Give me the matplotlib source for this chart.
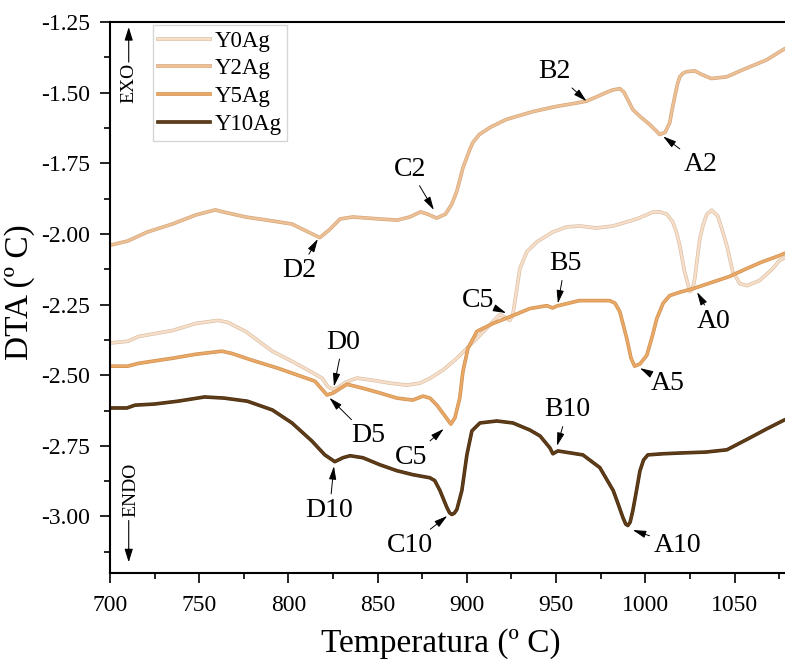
import matplotlib
matplotlib.use("Agg")
import matplotlib.pyplot as plt
import matplotlib.patheffects as pe
from matplotlib.ticker import MultipleLocator, FormatStrFormatter

plt.rcParams['font.family'] = ['Liberation Serif', 'DejaVu Serif']
plt.rcParams['axes.unicode_minus'] = False

# ---- data ----
temp_y0 = [700, 710, 716, 735, 748, 760.5, 766, 776, 791, 802,
           811, 819, 822, 825, 828, 832, 838.4, 847.3, 856.9, 866.4,
           873.7, 879.3, 886.6, 894.4, 900, 907.3, 914.6, 918.5, 922.4, 924,
           925.8, 928, 929.7, 933.6, 939.2, 948.2, 956, 963.3, 972.8, 981.8,
           995.2, 1004.2, 1008, 1012, 1015.4, 1017.5, 1019.3, 1022, 1025, 1026.5,
           1027.7, 1030.5, 1032.5, 1034.5, 1037.2, 1040.6, 1043, 1045.7, 1049, 1053,
           1057, 1064, 1071.4, 1075, 1085]
dta_y0 = [-2.386, -2.380, -2.363, -2.342, -2.317, -2.306, -2.313, -2.345, -2.415, -2.451,
          -2.482, -2.511, -2.540, -2.550, -2.543, -2.525, -2.510, -2.518, -2.528, -2.535,
          -2.528, -2.511, -2.482, -2.440, -2.405, -2.359, -2.310, -2.285, -2.299, -2.306,
          -2.285, -2.194, -2.123, -2.063, -2.028, -1.993, -1.975, -1.972, -1.979, -1.972,
          -1.947, -1.923, -1.922, -1.930, -1.958, -1.995, -2.042, -2.134, -2.204, -2.195,
          -2.158, -2.018, -1.965, -1.930, -1.916, -1.937, -1.985, -2.042, -2.134, -2.176,
          -2.183, -2.165, -2.123, -2.095, -2.060]

temp_y2 = [700, 710, 721, 735, 748, 759, 764, 776, 791, 802,
           811, 817.6, 823, 829, 836, 851, 861, 868, 874, 878,
           883, 888, 891.6, 894.4, 897.8, 901.7, 903.4, 907, 913, 922,
           937, 950, 963, 967, 973, 979, 982, 985.7, 988, 991,
           993, 997, 1002.5, 1006.4, 1008, 1011, 1013.7, 1015, 1016.5, 1018,
           1019.3, 1021, 1023, 1027.7, 1032, 1037, 1045.7, 1054.6, 1068, 1078,
           1085]
dta_y2 = [-2.040, -2.025, -1.993, -1.965, -1.933, -1.915, -1.923, -1.940, -1.954, -1.965,
          -1.993, -2.013, -1.985, -1.947, -1.940, -1.947, -1.951, -1.940, -1.922, -1.930,
          -1.944, -1.930, -1.894, -1.848, -1.766, -1.700, -1.676, -1.648, -1.623, -1.595,
          -1.567, -1.549, -1.535, -1.530, -1.514, -1.497, -1.490, -1.486, -1.498, -1.535,
          -1.560, -1.584, -1.613, -1.637, -1.648, -1.641, -1.606, -1.560, -1.514, -1.470,
          -1.444, -1.432, -1.426, -1.423, -1.437, -1.450, -1.444, -1.419, -1.384, -1.345,
          -1.325]

temp_y5 = [700, 710, 716, 735, 748, 762.7, 768.3, 779.6, 794, 805.3,
           814.8, 821.6, 825, 832.8, 841.7, 851.3, 860.8, 869.7, 875.4, 879.3,
           883.2, 887.7, 891, 893.3, 896, 897.8, 900.6, 905.6, 914.6, 925.8,
           935.3, 944.8, 948, 950.5, 963, 980, 983, 985.7, 989.6, 992,
           994, 997, 1000.8, 1004, 1006.4, 1010, 1013.7, 1020, 1026.6, 1037,
           1047, 1056, 1065, 1075, 1085]
dta_y5 = [-2.468, -2.468, -2.458, -2.440, -2.426, -2.415, -2.423, -2.447, -2.475, -2.500,
          -2.521, -2.570, -2.563, -2.532, -2.546, -2.563, -2.581, -2.588, -2.574, -2.581,
          -2.606, -2.644, -2.673, -2.651, -2.581, -2.486, -2.405, -2.345, -2.317, -2.289,
          -2.264, -2.254, -2.262, -2.255, -2.236, -2.236, -2.245, -2.275, -2.370, -2.440,
          -2.468, -2.460, -2.430, -2.360, -2.300, -2.245, -2.218, -2.205, -2.194, -2.172,
          -2.151, -2.125, -2.100, -2.077, -2.050]

temp_y10 = [700, 709.5, 714, 725, 738, 753, 764, 777, 791, 802,
            813, 820.4, 826, 830.5, 834.5, 841.7, 851.3, 860.8, 869.7, 879.3,
            882, 884.9, 888.8, 890.3, 891.6, 893, 894.4, 897.2, 900, 902.8,
            907.3, 916.8, 925.8, 935.3, 941, 946.5, 948.2, 951, 958, 965,
            974.5, 982, 985, 987.4, 989, 990.2, 991.5, 993, 995, 997,
            999, 1001.4, 1010, 1021, 1034, 1045.7, 1058.5, 1068, 1078, 1085]
dta_y10 = [-2.616, -2.616, -2.606, -2.602, -2.592, -2.577, -2.581, -2.592, -2.623, -2.669,
           -2.732, -2.782, -2.806, -2.792, -2.785, -2.792, -2.817, -2.838, -2.852, -2.863,
           -2.873, -2.908, -2.968, -2.987, -2.993, -2.988, -2.975, -2.908, -2.782, -2.697,
           -2.669, -2.662, -2.669, -2.694, -2.715, -2.757, -2.778, -2.768, -2.775, -2.782,
           -2.827, -2.908, -2.960, -3.003, -3.027, -3.032, -3.020, -2.979, -2.910, -2.838,
           -2.800, -2.782, -2.778, -2.775, -2.772, -2.764, -2.722, -2.690, -2.658, -2.640]

series_names = ["Y0Ag", "Y2Ag", "Y5Ag", "Y10Ag"]

# peak labels: (text, label position, arrow tip)
peak_labels = [
    ("B2", (949, -1.426), (967, -1.530)),
    ("A2", (1031, -1.754), (1010, -1.655)),
    ("C2", (868, -1.771), (881.5, -1.915)),
    ("D2", (806, -2.130), (816.5, -2.018)),
    ("C5", (906, -2.236), (922, -2.280)),
    ("B5", (955, -2.106), (951, -2.246)),
    ("A0", (1038.5, -2.310), (1029, -2.206)),
    ("A5", (1012.5, -2.528), (997, -2.475)),
    ("D0", (830.5, -2.384), (825.5, -2.540)),
    ("D5", (844.5, -2.715), (823, -2.580)),
    ("C5", (869, -2.790), (887, -2.690)),
    ("D10", (823, -2.979), (825.5, -2.822)),
    ("C10", (868, -3.102), (889, -2.998)),
    ("B10", (956.5, -2.623), (950.5, -2.750)),
    ("A10", (1018, -3.102), (993, -3.048)),
]

# ---- figure ----
fig = plt.figure(figsize=(7.85, 6.59), dpi=100)
ax = fig.add_axes([0.1401, 0.1305, 0.8752, 0.8361])

styles = [("#F6DEC8", "#D9BFA6"), ("#EDC195", "#D3A57A"),
          ("#E9A865", "#CF8F4E"), ("#5E3C18", "#4A2E10")]
all_x = [temp_y0, temp_y2, temp_y5, temp_y10]
all_y = [dta_y0, dta_y2, dta_y5, dta_y10]
for xs, ys, name, (fc, ec) in zip(all_x, all_y, series_names, styles):
    ax.plot(xs, ys, color=fc, lw=1.7, label=name, solid_joinstyle='round',
            path_effects=[pe.Stroke(linewidth=2.6, foreground=ec, joinstyle='round'),
                          pe.Normal()])

arrow_kw = dict(arrowstyle="-|>,head_length=0.8,head_width=0.22", mutation_scale=10,
                color="black", lw=0.7, shrinkA=1, shrinkB=0)
for txt, pos, tip in peak_labels:
    ax.annotate(txt, xy=tip, xytext=pos, fontsize=20, ha='center', va='center',
                arrowprops=arrow_kw)

# EXO / ENDO indicators
ind_arrow = dict(arrowstyle="-|>,head_length=0.8,head_width=0.25", mutation_scale=10,
                 color="black", lw=0.8, shrinkA=0, shrinkB=0)
ax.annotate("", xy=(710.5, -1.268), xytext=(710.5, -1.392), arrowprops=ind_arrow)
ax.text(710.5, -1.465, "EXO", rotation=90, fontsize=14, ha='center', va='center')
ax.annotate("", xy=(710.5, -3.162), xytext=(710.5, -3.014), arrowprops=ind_arrow)
ax.text(711.5, -2.905, "ENDO", rotation=90, fontsize=14, ha='center', va='center')

ax.set_xlim(700, 1085)
ax.set_ylim(-3.2, -1.25)
ax.xaxis.set_major_locator(MultipleLocator(50))
ax.xaxis.set_minor_locator(MultipleLocator(25))
ax.yaxis.set_major_locator(MultipleLocator(0.25))
ax.yaxis.set_minor_locator(MultipleLocator(0.125))
ax.yaxis.set_major_formatter(FormatStrFormatter('%.2f'))
ax.tick_params(which='major', direction='out', length=7.5, width=1.2, labelsize=17)
ax.tick_params(which='minor', direction='out', length=4, width=1.2)
ax.tick_params(axis='y', which='major', pad=7)
ax.tick_params(axis='x', which='major', pad=8)
ax.tick_params(top=False, right=False)
for s in ax.spines.values():
    s.set_linewidth(1.5)

ax.set_xlabel("Temperatura (º C)", fontsize=24, labelpad=9)
ax.xaxis.label.set_x(0.482)
ax.set_ylabel("DTA (º C)", fontsize=24, labelpad=4)
ax.yaxis.label.set_y(0.51)

leg = ax.legend(loc='upper left', bbox_to_anchor=(0.062, 0.995), fontsize=16.5,
                frameon=True, fancybox=False, handlelength=2.25, handletextpad=0.2,
                labelspacing=0.3, borderpad=0.25, borderaxespad=0)
leg.get_frame().set_edgecolor('#CCCCCC')
leg.get_frame().set_linewidth(1.0)

fig.savefig("out.png", dpi=100)
